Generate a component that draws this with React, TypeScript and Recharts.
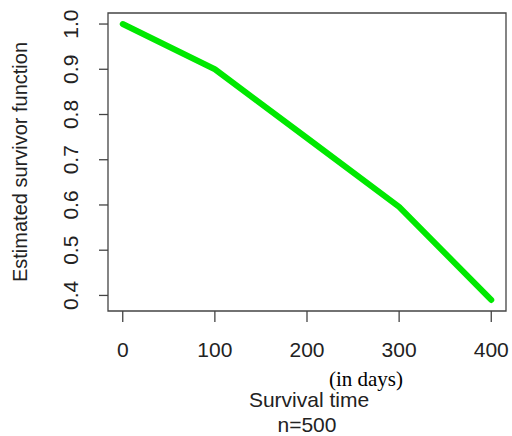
import { LineChart, Line, XAxis, YAxis, ReferenceArea, Label } from 'recharts'

// Kaplan-Meier style estimate
const survivalDays = [0, 100, 200, 300, 400]
const survivorEstimate = [1.0, 0.9, 0.748, 0.596, 0.39]

const xTicks = [0, 100, 200, 300, 400]
const yTicks = [0.4, 0.5, 0.6, 0.7, 0.8, 0.9, 1.0]
const yTickLabels = ['0.4', '0.5', '0.6', '0.7', '0.8', '0.9', '1.0']

const xTitle = 'Survival time'
const xUnit = '(in days)'
const xNote = 'n=500'
const yTitle = 'Estimated survivor function'

const SANS = '"Liberation Sans", Arial, sans-serif'
const SERIF = '"Liberation Serif", "Times New Roman", serif'
const INK = '#222'
const FRAME = '#444'

// R pads the data range by 4% on each side
function padded(values: number[]): [number, number] {
  const lo = Math.min(...values)
  const hi = Math.max(...values)
  const pad = (hi - lo) * 0.04
  return [lo - pad, hi + pad]
}

const xDomain = padded(survivalDays)
const yDomain = padded(survivorEstimate)

const data = survivalDays.map((t, i) => ({ t, s: survivorEstimate[i] }))

// eslint-disable-next-line @typescript-eslint/no-explicit-any
function XTick({ x, y, payload }: any) {
  return (
    <text x={x} y={y + 35} textAnchor="middle" fontFamily={SANS} fontSize={21} fill={INK}>
      {payload.value}
    </text>
  )
}

// eslint-disable-next-line @typescript-eslint/no-explicit-any
function YTick({ x, y, payload }: any) {
  const bx = x - 21
  const idx = yTicks.findIndex((v) => Math.abs(v - payload.value) < 1e-6)
  return (
    <text
      x={bx}
      y={y}
      transform={`rotate(-90, ${bx}, ${y})`}
      textAnchor="middle"
      fontFamily={SANS}
      fontSize={21}
      fill={INK}
    >
      {idx >= 0 ? yTickLabels[idx] : payload.value}
    </text>
  )
}

// eslint-disable-next-line @typescript-eslint/no-explicit-any
function XTitles(props: any) {
  const { x, y, width } = props.viewBox
  const cx = x + width / 2
  return (
    <g>
      <text x={cx + 59} y={y + 75} textAnchor="middle" fontFamily={SERIF} fontSize={21} fill="#000">
        {xUnit}
      </text>
      <text x={cx + 2} y={y + 96} textAnchor="middle" fontFamily={SANS} fontSize={21} fill={INK}>
        {xTitle}
      </text>
      <text x={cx} y={y + 121} textAnchor="middle" fontFamily={SANS} fontSize={21} fill={INK}>
        {xNote}
      </text>
    </g>
  )
}

// eslint-disable-next-line @typescript-eslint/no-explicit-any
function YTitle(props: any) {
  const { y, height } = props.viewBox
  const bx = 27
  const cy = y + height / 2 + 0
  return (
    <text
      x={bx}
      y={cy}
      transform={`rotate(-90, ${bx}, ${cy})`}
      textAnchor="middle"
      fontFamily={SANS}
      fontSize={20}
      fill={INK}
    >
      {yTitle}
    </text>
  )
}

export default function App() {
  return (
    <div style={{ position: 'absolute', left: 0, top: 0, background: '#fff' }}>
      <LineChart width={512} height={436} data={data} margin={{ top: 13, right: 6, bottom: 0, left: 0 }}>
        <XAxis
          dataKey="t"
          type="number"
          domain={xDomain}
          ticks={xTicks}
          allowDataOverflow
          axisLine={false}
          tickLine={{ stroke: FRAME, strokeWidth: 1.3 }}
          tickSize={11}
          tickMargin={0}
          tick={<XTick />}
          height={125}
          interval={0}
        >
          <Label content={<XTitles />} />
        </XAxis>
        <YAxis
          type="number"
          domain={yDomain}
          ticks={yTicks}
          allowDataOverflow
          axisLine={false}
          tickLine={{ stroke: FRAME, strokeWidth: 1.3 }}
          tickSize={9}
          tickMargin={0}
          tick={<YTick />}
          width={108}
          interval={0}
        >
          <Label content={<YTitle />} />
        </YAxis>
        <ReferenceArea
          x1={xDomain[0]}
          x2={xDomain[1]}
          y1={yDomain[0]}
          y2={yDomain[1]}
          fill="none"
          stroke={FRAME}
          strokeWidth={1.3}
          ifOverflow="visible"
        />
        <Line
          dataKey="s"
          stroke="#00e800"
          strokeWidth={6}
          strokeLinecap="round"
          strokeLinejoin="round"
          dot={false}
          isAnimationActive={false}
        />
      </LineChart>
    </div>
  )
}
